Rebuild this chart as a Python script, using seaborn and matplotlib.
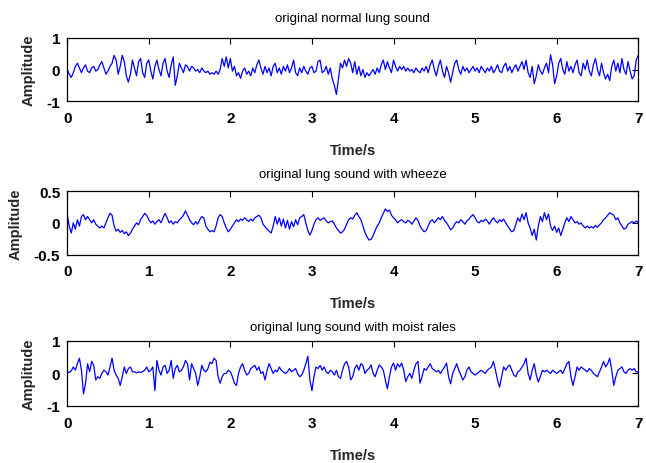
import numpy as np
import pandas as pd
import matplotlib
matplotlib.use("Agg")
import matplotlib.pyplot as plt
import seaborn as sns

titles = ["original normal lung sound",
          "original lung sound with wheeze",
          "original lung sound with moist rales"]
x_ticks = [0, 1, 2, 3, 4, 5, 6, 7]
y_ticks_list = [[-1, 0, 1], [-0.5, 0, 0.5], [-1, 0, 1]]
y_tick_labels_list = [["-1", "0", "1"], ["-0.5", "0", "0.5"], ["-1", "0", "1"]]
x_label = "Time/s"
y_label = "Amplitude"

normal = [
    0.0, -0.15, -0.25, -0.1, 0.1, 0.2, 0.05, -0.1, 0.05, 0.15, -0.05, -0.1, 0.05, 0.1, -0.05, 0.0, 0.15, 0.25, 0.05, -0.15,
    -0.05, 0.1, 0.2, 0.45, 0.3, -0.15, 0.1, 0.45, 0.25, -0.2, -0.4, -0.15, 0.3, 0.05, -0.2, 0.25, 0.35, -0.1, -0.25, 0.2,
    0.3, -0.05, -0.3, 0.1, 0.3, 0.0, -0.2, 0.2, 0.35, -0.05, -0.25, 0.15, 0.4, -0.5, -0.2, 0.2, 0.05, -0.1, 0.15, 0.1,
    -0.05, 0.1, 0.05, -0.05, 0.0, -0.1, 0.05, -0.05, -0.1, -0.05, -0.15, -0.1, -0.15, -0.05, -0.15, 0.0, 0.35, 0.1, 0.4, 0.05,
    0.35, -0.05, 0.1, -0.2, -0.1, -0.28, -0.05, 0.05, -0.15, -0.05, -0.2, 0.05, -0.1, 0.15, 0.3, 0.05, -0.15, 0.1, -0.1, 0.05,
    -0.2, 0.1, 0.2, -0.1, 0.05, -0.15, 0.1, -0.05, 0.15, -0.1, 0.05, 0.3, -0.1, -0.2, 0.05, -0.1, 0.1, -0.05, -0.15, 0.05,
    0.1, -0.1, -0.05, 0.25, 0.3, -0.1, -0.05, 0.1, -0.15, 0.05, -0.3, -0.5, -0.79, -0.3, 0.2, 0.05, 0.3, 0.1, 0.35, 0.2,
    -0.1, 0.25, -0.15, 0.1, -0.2, 0.0, -0.25, -0.1, -0.2, -0.1, 0.0, -0.15, 0.05, -0.1, 0.15, 0.3, 0.0, 0.25, 0.05, -0.1,
    0.3, 0.1, -0.05, 0.1, 0.0, 0.1, -0.05, 0.05, -0.05, 0.0, -0.1, 0.05, -0.05, -0.1, 0.05, -0.05, 0.1, -0.1, 0.15, 0.3,
    0.0, -0.2, 0.1, 0.3, -0.05, -0.25, 0.1, -0.1, -0.4, -0.1, 0.2, 0.3, 0.0, -0.15, 0.1, -0.05, 0.05, -0.1, 0.0, 0.1,
    -0.05, 0.05, -0.1, 0.1, 0.0, -0.1, 0.05, -0.05, 0.1, -0.1, 0.0, 0.15, -0.05, -0.1, 0.1, 0.2, -0.05, 0.1, -0.1, 0.05,
    0.15, -0.05, 0.1, 0.25, 0.0, 0.3, -0.1, -0.25, 0.1, -0.45, -0.2, 0.15, -0.05, -0.15, 0.05, 0.2, -0.1, 0.47, 0.15, -0.45,
    -0.2, 0.2, 0.35, 0.0, -0.15, 0.25, -0.05, 0.1, -0.1, 0.15, 0.3, -0.1, -0.2, 0.2, 0.0, 0.3, -0.05, -0.2, 0.15, 0.35,
    0.0, -0.2, 0.2, -0.1, -0.3, -0.15, -0.35, 0.1, 0.3, -0.05, 0.2, -0.1, 0.35, 0.0, -0.15, 0.25, -0.05, -0.3, -0.2, 0.3,
    0.45,
]

wheeze = [
    0.13, -0.05, -0.16, 0.0, -0.1, 0.05, -0.05, 0.1, 0.13, 0.05, 0.1, 0.05, 0.0, 0.05, -0.02, -0.05, -0.08, -0.05, -0.08, 0.0,
    0.08, 0.15, 0.12, -0.05, -0.13, -0.1, -0.15, -0.12, -0.17, -0.14, -0.2, -0.16, -0.1, -0.05, 0.0, -0.03, 0.05, 0.1, 0.15, 0.12,
    0.05, 0.0, 0.03, -0.02, 0.02, 0.05, 0.0, 0.08, 0.15, 0.08, 0.0, 0.03, -0.02, 0.02, 0.0, 0.05, 0.08, 0.12, 0.19, 0.12,
    0.05, 0.0, -0.03, 0.02, -0.02, 0.05, 0.1, 0.08, -0.05, -0.1, -0.14, -0.12, -0.14, -0.05, 0.08, 0.13, 0.1, 0.0, -0.08, -0.14,
    -0.1, -0.05, 0.0, 0.05, 0.02, 0.06, 0.04, 0.08, 0.05, 0.02, 0.06, 0.03, 0.08, 0.1, 0.12, 0.08, -0.02, -0.06, -0.1, -0.13,
    -0.16, -0.05, 0.1, -0.02, 0.08, -0.05, 0.06, -0.08, 0.04, -0.1, 0.02, -0.06, 0.05, -0.03, 0.08, 0.1, 0.13, 0.0, -0.12, -0.19,
    -0.12, -0.02, 0.05, 0.08, 0.04, 0.06, 0.08, 0.03, 0.0, 0.02, 0.03, -0.02, -0.08, -0.12, -0.16, -0.14, -0.1, -0.02, 0.05, 0.08,
    0.06, 0.12, 0.16, 0.1, 0.05, -0.05, -0.15, -0.22, -0.27, -0.26, -0.2, -0.12, -0.05, 0.0, 0.08, 0.15, 0.22, 0.18, 0.2, 0.12,
    0.08, 0.05, 0.0, 0.03, 0.05, 0.02, 0.0, 0.04, 0.02, -0.02, 0.03, 0.08, 0.04, -0.05, -0.1, -0.14, -0.12, -0.05, 0.02, 0.05,
    0.0, 0.04, 0.08, 0.05, 0.1, 0.04, 0.0, -0.05, -0.11, -0.08, -0.02, 0.02, 0.0, 0.05, 0.02, -0.02, 0.03, 0.06, 0.1, 0.13,
    0.08, 0.02, 0.0, 0.04, 0.02, 0.06, 0.03, -0.02, 0.04, 0.08, 0.03, 0.0, 0.05, 0.02, 0.06, 0.0, -0.05, -0.1, -0.14, -0.12,
    -0.02, 0.08, 0.02, 0.14, 0.05, 0.16, 0.0, -0.08, -0.2, -0.1, -0.27, -0.05, 0.1, 0.02, 0.16, 0.05, 0.14, -0.05, -0.12, -0.05,
    -0.15, -0.08, -0.2, -0.1, 0.0, 0.08, 0.02, 0.1, 0.05, 0.0, 0.02, -0.02, 0.0, -0.05, -0.08, -0.05, -0.08, -0.06, -0.08, -0.04,
    -0.07, -0.03, 0.0, 0.05, 0.08, 0.12, 0.16, 0.14, 0.12, 0.05, 0.08, 0.0, -0.05, -0.1, -0.08, -0.02, 0.0, 0.02, 0.0, 0.03,
    0.0,
]

rales = [
    0.05, 0.03, 0.08, 0.2, 0.1, 0.3, 0.47, 0.1, -0.63, -0.3, 0.3, 0.05, 0.37, 0.25, -0.2, -0.1, -0.15, 0.0, 0.1, 0.05,
    -0.05, 0.2, 0.47, 0.1, -0.05, -0.15, -0.37, -0.1, 0.2, 0.0, 0.15, 0.2, 0.05, 0.05, 0.02, 0.05, 0.03, 0.06, 0.1, 0.2,
    0.05, 0.1, 0.2, -0.53, 0.4, 0.1, -0.05, 0.2, 0.25, 0.0, 0.1, 0.4, -0.15, 0.15, 0.25, 0.05, 0.1, 0.2, 0.4, 0.3,
    -0.2, 0.3, 0.15, 0.0, -0.37, -0.1, 0.25, 0.1, 0.05, 0.15, 0.35, 0.3, 0.47, 0.4, -0.1, -0.3, -0.1, 0.0, 0.0, 0.1,
    0.05, -0.1, -0.3, -0.37, 0.0, 0.2, 0.3, 0.1, -0.05, 0.0, 0.15, 0.2, 0.25, 0.1, 0.2, 0.0, 0.05, -0.2, 0.1, 0.3,
    0.15, 0.0, 0.1, 0.05, 0.2, 0.1, 0.05, 0.0, 0.05, 0.15, 0.05, 0.1, 0.15, 0.0, -0.1, -0.05, 0.1, 0.3, 0.53, -0.2,
    -0.53, -0.1, 0.2, 0.15, 0.25, 0.1, 0.2, 0.05, 0.0, 0.1, 0.05, -0.05, 0.1, -0.1, -0.15, 0.1, 0.3, 0.37, 0.2, -0.2,
    -0.1, 0.15, 0.26, 0.1, 0.3, 0.25, 0.0, 0.1, 0.15, 0.26, 0.0, -0.1, 0.1, 0.26, 0.2, 0.1, -0.2, -0.47, -0.1, 0.2,
    0.32, 0.1, 0.3, 0.2, 0.32, 0.1, -0.25, -0.1, 0.0, -0.15, 0.1, 0.3, 0.37, -0.3, -0.1, 0.15, 0.1, 0.2, 0.3, 0.15,
    0.1, 0.05, 0.1, 0.0, 0.1, 0.2, 0.32, -0.1, -0.32, 0.0, 0.15, 0.3, 0.1, -0.05, -0.2, -0.1, 0.1, 0.2, 0.05, 0.0,
    -0.05, 0.0, 0.05, 0.1, 0.05, 0.0, 0.1, 0.15, 0.2, 0.37, 0.1, -0.2, -0.42, -0.1, 0.2, 0.1, 0.2, 0.26, 0.1, -0.05,
    -0.1, 0.05, 0.1, 0.2, 0.3, 0.47, 0.0, -0.2, 0.1, 0.3, -0.05, -0.26, -0.1, 0.1, 0.05, 0.1, 0.05, 0.0, 0.1, 0.05,
    0.0, 0.05, 0.1, 0.0, 0.15, 0.3, 0.37, -0.1, -0.37, -0.1, 0.2, 0.1, 0.2, 0.15, 0.1, 0.05, 0.15, 0.1, 0.0, -0.05,
    -0.1, 0.05, 0.2, 0.37, 0.2, 0.3, 0.47, 0.1, -0.37, -0.1, 0.1, 0.15, 0.2, 0.05, 0.0, 0.1, 0.15, 0.1, 0.15, 0.05,
    0.05,
]

series = [normal, wheeze, rales]

sns.set_theme(style="white")
plt.rcParams["font.family"] = ["Liberation Sans", "DejaVu Sans"]

fig = plt.figure(figsize=(6.46, 4.64), dpi=100)
positions = [
    [0.104, 0.780, 0.884, 0.136],
    [0.104, 0.449, 0.884, 0.137],
    [0.104, 0.123, 0.884, 0.140],
]
title_pads = [12, 10, 8]

for pos, vals, title, yt, ytl, tpad in zip(positions, series, titles, y_ticks_list,
                                          y_tick_labels_list, title_pads):
    ax = fig.add_axes(pos)
    t = np.linspace(0, 7, len(vals))
    df = pd.DataFrame({"time": t, "amp": vals})
    sns.lineplot(data=df, x="time", y="amp", ax=ax, color=(0, 0, 1),
                 linewidth=0.9, estimator=None, sort=False)
    ax.set_xlim(0, 7)
    ax.set_ylim(yt[0], yt[-1])
    ax.set_xticks(x_ticks)
    ax.set_xticklabels([str(v) for v in x_ticks], fontsize=11, fontweight="bold")
    ax.set_yticks(yt)
    ax.set_yticklabels(ytl, fontsize=11, fontweight="bold")
    ax.tick_params(axis="x", pad=7)
    ax.tick_params(axis="y", pad=5)
    ax.set_title(title, fontsize=9.5, pad=tpad, color="black")
    ax.set_xlabel(x_label, fontsize=10.5, fontweight="bold", labelpad=13)
    ax.set_ylabel(y_label, fontsize=10.5, fontweight="bold", labelpad=8)
    ax.tick_params(direction="in", top=True, right=True, length=4, width=0.8,
                   colors="black")
    for sp in ax.spines.values():
        sp.set_visible(True)
        sp.set_color("black")
        sp.set_linewidth(0.9)

fig.savefig("out.png", dpi=100)
